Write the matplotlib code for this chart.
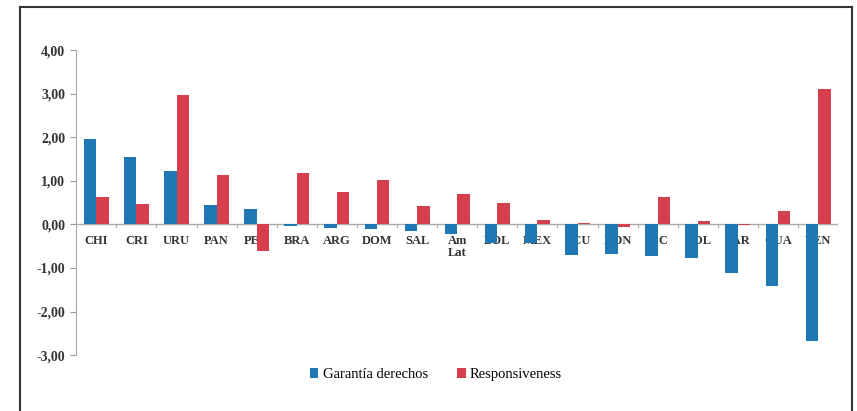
import matplotlib.pyplot as plt
import numpy as np
from matplotlib.ticker import FuncFormatter

paises = ["CHI", "CRI", "URU", "PAN", "PER", "BRA", "ARG", "DOM", "SAL", "Am\nLat",
          "BOL", "MEX", "ECU", "HON", "NIC", "COL", "PAR", "GUA", "VEN"]
garantia = [1.95, 1.54, 1.22, 0.44, 0.36, -0.03, -0.08, -0.11, -0.16, -0.21,
            -0.42, -0.42, -0.70, -0.69, -0.73, -0.78, -1.12, -1.41, -2.67]
responsiveness = [0.62, 0.46, 2.96, 1.13, -0.60, 1.17, 0.74, 1.01, 0.42, 0.69,
                  0.48, 0.09, 0.04, -0.05, 0.63, 0.07, -0.02, 0.30, 3.10]

azul = "#1F78B4"
rojo = "#D6404E"

plt.rcParams["font.family"] = ["Liberation Serif", "DejaVu Serif"]

fig = plt.figure(figsize=(8.57, 4.11), dpi=100)
ax = fig.add_axes([0.089, 0.136, 0.889, 0.742])

x = np.arange(len(paises))
w = 0.31
ax.bar(x - w / 2, garantia, w, color=azul, label="Garantía derechos", zorder=3)
ax.bar(x + w / 2, responsiveness, w, color=rojo, label="Responsiveness", zorder=3)

ax.set_ylim(-3, 4)
ax.set_xlim(-0.5, len(paises) - 0.5)
ax.set_yticks(range(-3, 5))
ax.yaxis.set_major_formatter(FuncFormatter(lambda v, p: f"{v:.2f}".replace(".", ",")))
ax.tick_params(axis="y", labelsize=10, length=4, color="#999999", pad=4)
for lab in ax.get_yticklabels():
    lab.set_fontweight("bold")
    lab.set_color("#333333")

ax.set_xticks([])
ax.axhline(0, color="#aaaaaa", linewidth=1, zorder=1)
for xi in np.arange(len(paises) + 1) - 0.5:
    ax.plot([xi, xi], [0, -0.06], color="#aaaaaa", linewidth=0.8, zorder=1)

for i, p in enumerate(paises):
    ax.text(i, -0.24, p, ha="center", va="top", fontsize=9, color="#333333",
            fontweight="bold", linespacing=1.0, zorder=2)

for s in ["top", "right", "bottom"]:
    ax.spines[s].set_visible(False)
ax.spines["left"].set_color("#aaaaaa")

ax.legend(loc="upper center", bbox_to_anchor=(0.472, 0.0), ncol=2, frameon=False,
          fontsize=10.5, handlelength=0.6, handleheight=0.6, handletextpad=0.3,
          columnspacing=2.0)

# marco exterior
fig.add_artist(plt.Line2D([20 / 857, 20 / 857], [0, 1 - 7 / 411], color="#333333", linewidth=1.5))
fig.add_artist(plt.Line2D([20 / 857, 852 / 857], [1 - 7 / 411, 1 - 7 / 411], color="#333333", linewidth=1.5))
fig.add_artist(plt.Line2D([852 / 857, 852 / 857], [0, 1 - 7 / 411], color="#333333", linewidth=1.5))

fig.savefig("out.png", dpi=100)
